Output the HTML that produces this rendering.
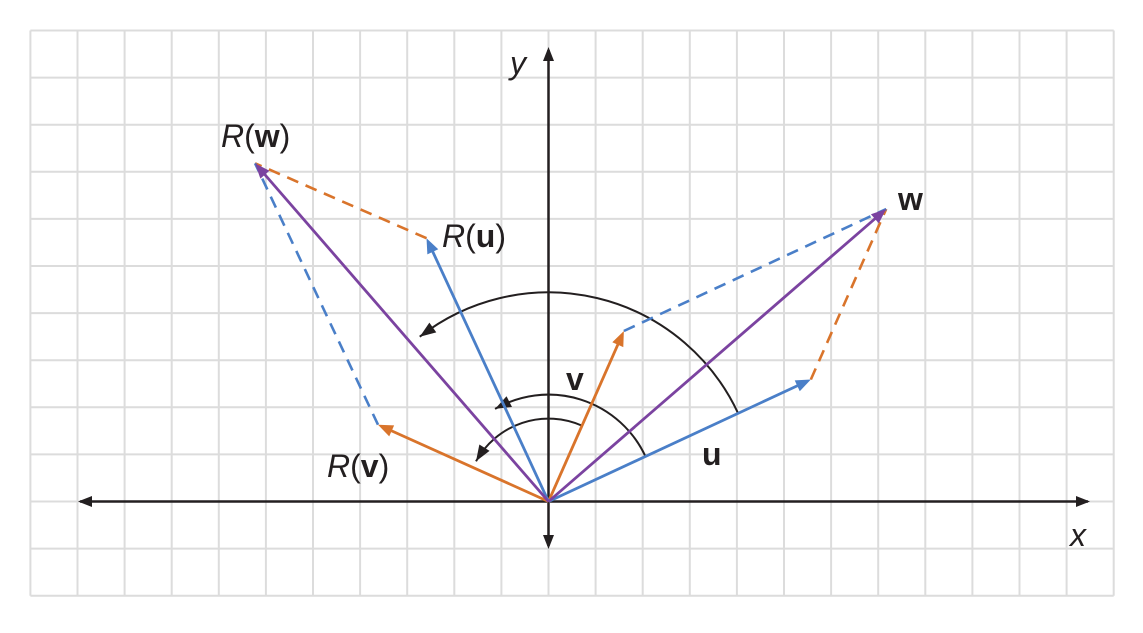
<!DOCTYPE html>
<html><head><meta charset="utf-8"><style>
html,body{margin:0;padding:0;background:#fff;}
svg{display:block;}
text{font-family:"Liberation Sans",Arial,sans-serif;font-size:32px;fill:#231f20;}
</style></head><body>
<svg id="chart" width="1143" height="633" viewBox="0 0 1143 633" xmlns="http://www.w3.org/2000/svg">
<g id="grid"></g>
<g id="axes"></g>
<g id="arcs"></g>
<g id="vecs"></g>
<g>
<text x="510" y="74" font-style="italic">y</text>
<text x="1070" y="546" font-style="italic">x</text>
<text x="221" y="147"><tspan font-style="italic">R</tspan>(<tspan font-weight="bold">w</tspan>)</text>
<text x="442" y="247"><tspan font-style="italic">R</tspan>(<tspan font-weight="bold">u</tspan>)</text>
<text x="327" y="477"><tspan font-style="italic">R</tspan>(<tspan font-weight="bold">v</tspan>)</text>
<text x="898" y="210" font-weight="bold">w</text>
<text x="566" y="390" font-weight="bold">v</text>
<text x="702" y="465" font-weight="bold">u</text>
</g>
</svg>
<script>
// vector data in grid units
const vecNames = ['u','v','w','Ru','Rv','Rw'];
const vecX = [5.57, 1.60, 7.17, -2.59, -3.62, -6.23];
const vecY = [2.59, 3.62, 6.21, 5.59, 1.63, 7.18];
const vecColors = ['#4a7fc8','#d9742b','#7b43a0','#4a7fc8','#d9742b','#7b43a0'];
// dashed parallelogram edges
const dashFrom = ['u','v','Ru','Rv'];
const dashTo = ['w','w','Rw','Rw'];
const dashColorOf = ['v','u','Rv','Ru'];
// arcs: radius in units, start/end angle in degrees
const arcR = [4.44, 2.27, 1.76];
const arcStart = [25, 25, 66];
const arcEnd = [128, 120, 151];

const NS='http://www.w3.org/2000/svg';
const ox=548.5, oy=501.5, s=47.1;
const X=u=>ox+u*s, Y=v=>oy-v*s;
function mk(tag,attrs,parent){const e=document.createElementNS(NS,tag);for(const k in attrs)e.setAttribute(k,attrs[k]);parent.appendChild(e);return e;}
const grid=document.getElementById('grid');
for(let i=-11;i<=12;i++){const l=mk('line',{x1:X(i),x2:X(i),y1:Y(10),y2:Y(-2),stroke:'#dcdcdc','stroke-width':2},grid);

}
for(let j=-2;j<=10;j++){const l=mk('line',{x1:X(-11),x2:X(12),y1:Y(j),y2:Y(j),stroke:'#dcdcdc','stroke-width':2},grid);

}
function head(x1,y1,x2,y2,color,len,w,parent){
 const a=Math.atan2(y2-y1,x2-x1);const bx=x2-len*Math.cos(a),by=y2-len*Math.sin(a);
 const px=-Math.sin(a)*w/2,py=Math.cos(a)*w/2;
 return mk('polygon',{points:`${x2},${y2} ${bx+px},${by+py} ${bx-px},${by-py}`,fill:color},parent);}
const axes=document.getElementById('axes');
const xa=mk('line',{x1:80,y1:oy,x2:1088,y2:oy,stroke:'#231f20','stroke-width':2.5},axes);


head(100,oy,78,oy,'#231f20',14,11,axes);head(1060,oy,1090,oy,'#231f20',14,11,axes);
const ya=mk('line',{x1:ox,y1:50,x2:ox,y2:546,stroke:'#231f20','stroke-width':2.5},axes);


head(ox,80,ox,47,'#231f20',14,11,axes);head(ox,520,ox,549,'#231f20',14,11,axes);

const arcs=document.getElementById('arcs');
for(let i=0;i<arcR.length;i++){
 const r=arcR[i]*s,a0=arcStart[i]*Math.PI/180,a1=arcEnd[i]*Math.PI/180;
 const x0=ox+r*Math.cos(a0),y0=oy-r*Math.sin(a0),x1=ox+r*Math.cos(a1),y1=oy-r*Math.sin(a1);
 const p=mk('path',{d:`M${x0},${y0} A${r},${r} 0 0 0 ${x1},${y1}`,fill:'none',stroke:'#231f20','stroke-width':2},arcs);
 
 
 const tx=ox+r*Math.cos(a1-0.1),ty=oy-r*Math.sin(a1-0.1);
 head(tx,ty,x1,y1,'#231f20',16,12,arcs);
}
const vecs=document.getElementById('vecs');
const idx=n=>vecNames.indexOf(n);
for(let i=0;i<dashFrom.length;i++){
 const a=idx(dashFrom[i]),b=idx(dashTo[i]),c=vecColors[idx(dashColorOf[i])];
 const l=mk('line',{x1:X(vecX[a]),y1:Y(vecY[a]),x2:X(vecX[b]),y2:Y(vecY[b]),stroke:c,'stroke-width':2.6,'stroke-dasharray':'12 8'},vecs);
 
 
}
for(let i=0;i<vecNames.length;i++){
 const x2=X(vecX[i]),y2=Y(vecY[i]);const a=Math.atan2(y2-oy,x2-ox);
 const l=mk('line',{x1:ox,y1:oy,x2:x2-8*Math.cos(a),y2:y2-8*Math.sin(a),stroke:vecColors[i],'stroke-width':2.8},vecs);
 
 
 head(ox,oy,x2,y2,vecColors[i],15,12,vecs);
}
</script>
</body></html>
